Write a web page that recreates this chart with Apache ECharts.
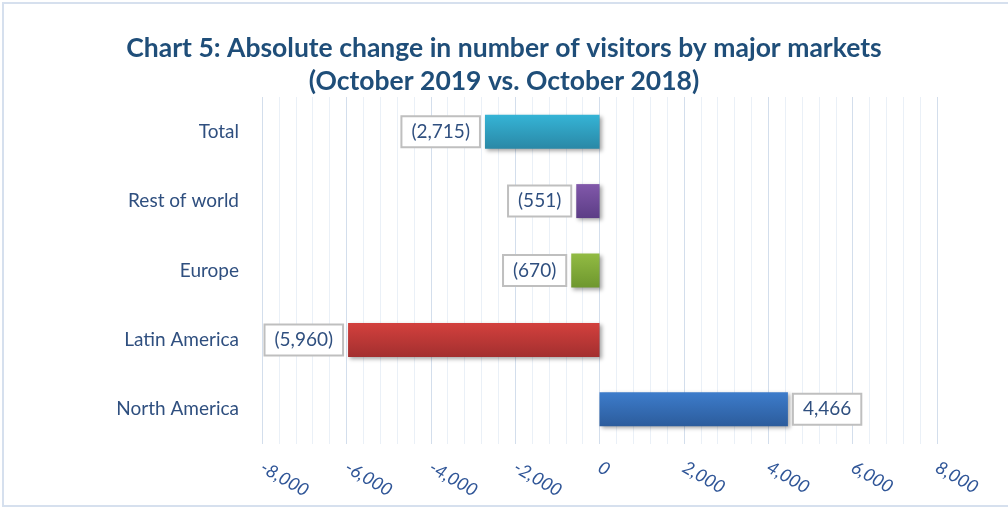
<!DOCTYPE html>
<html>
<head>
<meta charset="utf-8">
<script src="https://cdn.jsdelivr.net/npm/echarts@6/dist/echarts.min.js"></script>
<style>
  html, body { margin: 0; padding: 0; background: #fff; }
  #chart { width: 1008px; height: 512px; }
</style>
</head>
<body>
<div id="chart"></div>
<script>
// categories listed bottom -> top
var categories = ['North America', 'Latin America', 'Europe', 'Rest of world', 'Total'];
var changes = [4466, -5960, -670, -551, -2715];
var barTop = ['#3D7CCB', '#D3403D', '#92BB43', '#8158AA', '#35B4D6'];
var barBottom = ['#2C5C9C', '#A32F2F', '#6E972E', '#5C3D86', '#2A88A6'];
var axisMin = -8000, axisMax = 8000, axisStep = 2000;

function fmt(v) {
  var s = Math.abs(v).toString().replace(/\B(?=(\d{3})+(?!\d))/g, ',');
  return v < 0 ? '(' + s + ')' : s;
}

var chart = echarts.init(document.getElementById('chart'));

var data = changes.map(function (v, i) {
  return {
    value: v,
    itemStyle: {
      color: new echarts.graphic.LinearGradient(0, 0, 0, 1, [
        { offset: 0, color: barTop[i] },
        { offset: 1, color: barBottom[i] }
      ])
    },
    label: { position: v < 0 ? 'left' : 'right' }
  };
});

chart.setOption({
  backgroundColor: '#fff',
  animation: false,
  graphic: [{
    type: 'rect',
    shape: { x: 3, y: 3, width: 1010, height: 503 },
    style: { fill: 'none', stroke: '#D6E0EE', lineWidth: 2 }
  }],
  title: {
    text: 'Chart 5: Absolute change in number of visitors by major markets\n(October 2019 vs. October 2018)',
    left: 'center',
    top: 27,
    textStyle: {
      fontFamily: 'Lato',
      fontWeight: 'bold',
      fontSize: 26.5,
      lineHeight: 33,
      color: '#1F4E79'
    }
  },
  grid: { left: 262, right: 71, top: 97, bottom: 68 },
  xAxis: {
    type: 'value',
    min: axisMin,
    max: axisMax,
    interval: axisStep,
    axisLine: { show: false },
    axisTick: { show: false },
    minorTick: { show: false, splitNumber: 5 },
    splitLine: { show: true, lineStyle: { color: '#D3DEEC', width: 1 } },
    minorSplitLine: { show: true, lineStyle: { color: '#EAF0F7', width: 1 } },
    axisLabel: {
      rotate: -30,
      margin: 22,
      fontFamily: 'Lato',
      fontStyle: 'italic',
      fontSize: 18,
      color: '#2F5597',
      formatter: function (v) {
        return (v < 0 ? '-' : '') + Math.abs(v).toString().replace(/\B(?=(\d{3})+(?!\d))/g, ',');
      }
    }
  },
  yAxis: {
    type: 'category',
    data: categories,
    axisLine: { show: false },
    axisTick: { show: false },
    splitLine: { show: false },
    axisLabel: {
      margin: 23,
      fontFamily: 'Lato',
      fontSize: 19,
      color: '#2F4F7F'
    }
  },
  series: [{
    type: 'bar',
    data: data,
    barWidth: 34,
    itemStyle: {
      shadowColor: 'rgba(0,0,0,0.35)',
      shadowBlur: 4,
      shadowOffsetX: 2,
      shadowOffsetY: 2
    },
    label: {
      show: true,
      distance: 6,
      formatter: function (p) { return fmt(p.value); },
      fontFamily: 'Lato',
      fontSize: 19,
      color: '#2F4F7F',
      backgroundColor: '#fff',
      borderColor: '#BFBFBF',
      borderWidth: 2,
      padding: [6, 9, 4, 9]
    }
  }]
});
</script>
</body>
</html>
